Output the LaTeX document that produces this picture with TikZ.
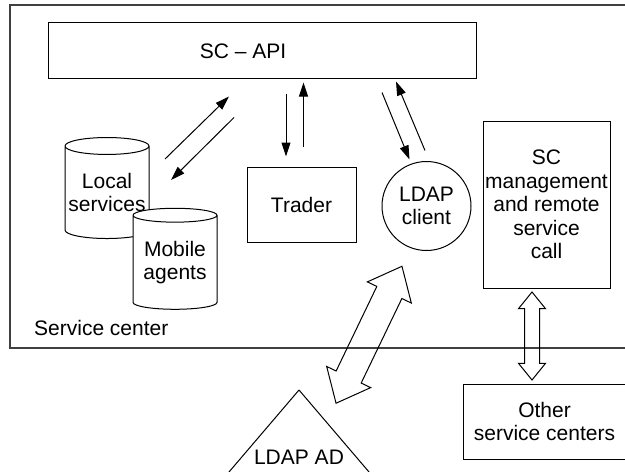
\documentclass[tikz,border=0pt]{standalone}
\usepackage{fontspec}
\setmainfont{Liberation Sans}
\usetikzlibrary{positioning,calc,shapes.geometric,shapes.arrows,arrows.meta}

\begin{document}
\begin{tikzpicture}[x=0.5pt, y=-0.5pt,
        font=\fontsize{10.5}{11.75}\selectfont, line width=0.5pt,
        box/.style={rectangle, draw, inner sep=0pt, align=center},
        drum/.style={cylinder, shape border rotate=90, draw, fill=white, aspect=0.22,
            minimum width=42pt, minimum height=50.5pt, inner sep=0pt, align=center},
        thin/.style={-{Triangle[length=7pt, width=4.5pt]}},
        hollow/.style={double arrow, draw, inner xsep=0pt}
    ]
    \useasboundingbox (0,0) rectangle (625,471);
    \clip (0,0) rectangle (625,471);
    % service center frame
    \draw[line width=0.7pt, black!75] (10,5) rectangle (650,348);
    \node[anchor=west] (sclabel) at (27,328) {Service center};
    \node[box, minimum width=214pt, minimum height=28pt] (api) at (262,50) {};
    \node (apitext) at (243,51) {SC – API};
    \node[drum] (loc) at (107,192.5) {Local\\services};
    \node[drum] (mob) at (175,262.5) {Mobile\\agents};
    \node[box, minimum width=54.5pt, minimum height=37.5pt] (trader) at (301.5,204.5) {Trader};
    \node[circle, draw, minimum size=44.5pt, inner sep=0pt, align=center] (ldap) at (426.5,206) {LDAP\\client};
    \node[box, minimum width=63.5pt, minimum height=83.5pt] (mgmt) at (546.5,204.5) {SC\\management\\and remote\\service\\call};
    \node[box, minimum width=81.5pt, minimum height=37.5pt] (other) at (544.5,421.5) {Other\\service centers};
    % directory
    \coordinate (adtop) at (299,390);
    \draw (adtop) -- ++(-111,130) (adtop) -- ++(111,130);
    \node (ad) at (299,457) {LDAP AD};
    % calls to the API
    \draw[thin] ($(loc.center)+(58,-33.5)$) -- ($(api.south)+(-33,18)$);
    \draw[thin] ($(api.south)+(-28,39)$) -- ($(loc.center)+(64,-12.5)$);
    \draw[thin] ($(api.south)+(24,15)$) -- ($(trader.north)+(-15.5,-10)$);
    \draw[thin] ($(trader.north)+(2,-20)$) -- ($(api.south)+(41.5,4)$);
    \draw[thin] ($(api.south)+(120,14)$) -- ($(ldap.north)+(-17,-1.5)$);
    \draw[thin] ($(ldap.north)+(-1.5,-10.5)$) -- ($(api.south)+(134,3)$);
    % links out of the center
    \node[hollow, rotate=90, minimum height=44pt, inner ysep=3.5pt,
        double arrow head extend=3pt, double arrow tip angle=78]
        (linkarrow) at ($(mgmt.south)!0.5!(other.north)+(-13.5,0)$) {};
    \node[hollow, rotate=64.3, minimum height=76pt, inner ysep=6.7pt,
        double arrow head extend=5.25pt, double arrow tip angle=80]
        (adarrow) at ($(adtop)!0.5!(ldap.south)+(6.25,14.25)$) {};
\end{tikzpicture}
\end{document}
